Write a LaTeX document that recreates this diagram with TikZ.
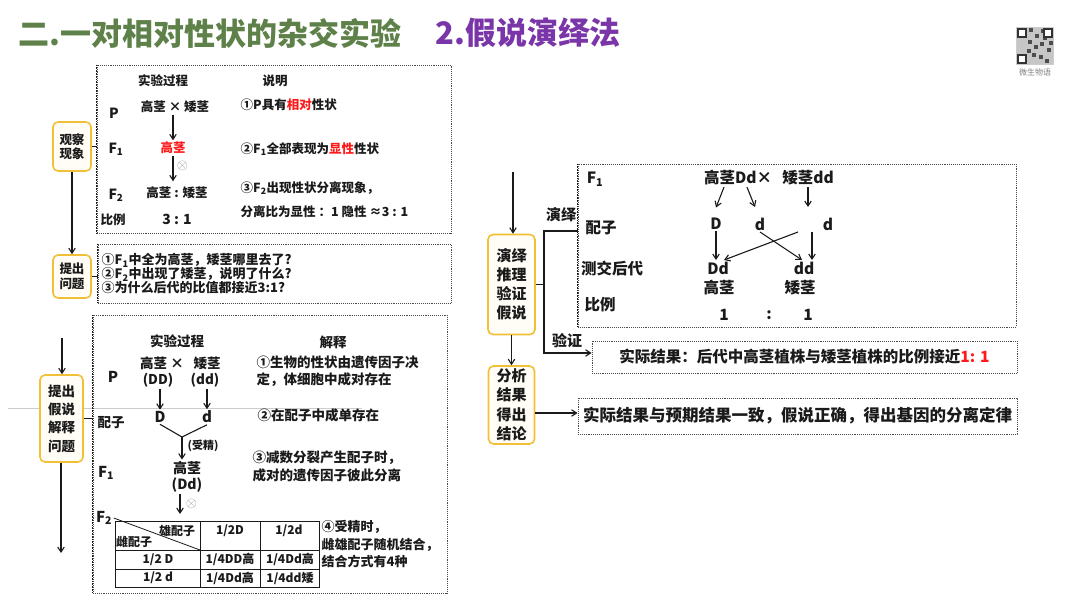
\documentclass[tikz,border=0pt]{standalone}
\usepackage{fontspec}
\setmainfont{Noto Sans CJK SC}
\usetikzlibrary{arrows.meta,positioning}
\definecolor{titlegreen}{HTML}{5E8049}
\definecolor{titlepurple}{HTML}{7A35A8}
\definecolor{stagegold}{HTML}{F2C037}
\definecolor{stagefill}{HTML}{FFFDF5}
\definecolor{ink}{HTML}{1A1A1A}
\definecolor{dotgray}{HTML}{4A4A4A}
\definecolor{hotred}{HTML}{FF1A1A}
\tikzset{
  stagecard/.style={draw=stagegold,fill=stagefill,line width=1.6pt,rounded corners=5pt,
                    align=center,inner sep=2pt,text=ink},
  dotpanel/.style={draw=dotgray,densely dotted,line width=0.9pt,inner sep=0pt,text=ink},
  panelside/.style={draw=ink,densely dotted,line width=1.8pt},
  lbl/.style={inner sep=1.5pt,text=ink,font=\bfseries\fontsize{12.5}{15}\selectfont},
  mlbl/.style={inner sep=1.5pt,text=ink,font=\bfseries\fontsize{13.5}{17}\selectfont},
  rlbl/.style={inner sep=1.5pt,text=ink,font=\bfseries\fontsize{15.5}{18}\selectfont},
  cell/.style={inner sep=1pt,text=ink,font=\bfseries\fontsize{12}{14}\selectfont},
  selfing/.style={inner sep=0pt,text=gray!85,font=\fontsize{14}{14}\selectfont},
  tbl/.style={draw=ink,line width=0.8pt},
  flowarr/.style={-{Straight Barb[length=5pt,width=6.5pt]},line width=1.1pt,draw=ink},
  link/.style={line width=1.1pt,draw=ink}
}
\begin{document}
\begin{tikzpicture}[x=1pt,y=-1pt]
  \useasboundingbox (0,0) rectangle (1080,608);
  \draw[gray!40,line width=0.5pt] (8,408) -- (362,408);
  % title
  \node[anchor=west,text=titlegreen,font=\bfseries\fontsize{31}{34}\selectfont] (ttl) at (15,33)
    {二.一对相对性状的杂交实验};
  \node[anchor=west,text=titlepurple,font=\bfseries\fontsize{31}{34}\selectfont] (subttl) at (432,33)
    {2.假说演绎法};
  % qr corner
  \node[draw=gray!40,fill=gray!45,minimum size=37,inner sep=0pt] (qr) at (1035,46) {};
  \foreach \mx/\my in {1031/30,1037/36,1043/31,1030/42,1036/47,1042/44,1049/50,
                       1034/55,1041/57,1047/61,1029/51,1045/38,1051/43}
    \fill[black!70] (\mx-2,\my-2) rectangle (\mx+2,\my+2);
  \foreach \cx/\cy in {1022/33,1048/33,1022/59}
    \draw[black!80,fill=white,line width=1.8pt] (\cx-4,\cy-4) rectangle (\cx+4,\cy+4);
  \node[text=gray,font=\fontsize{8}{9}\selectfont,below=1pt of qr] (qrcap) {微生物语};

  % stage boxes
  \node[stagecard,minimum width=38,minimum height=49,font=\bfseries\fontsize{12.5}{14.5}\selectfont]
    (obs) at (72,146.5) {观察\\现象};
  \node[stagecard,minimum width=38,minimum height=43,font=\bfseries\fontsize{12.5}{15}\selectfont]
    (ask) at (72,276.5) {提出\\问题};
  \node[stagecard,minimum width=43,minimum height=87,font=\bfseries\fontsize{13.5}{18.3}\selectfont]
    (hyp) at (61.5,418.5) {提出\\假说\\解释\\问题};
  \node[stagecard,minimum width=47,minimum height=100,font=\bfseries\fontsize{15}{19}\selectfont]
    (ded) at (511.5,284.5) {演绎\\推理\\验证\\假说};
  \node[stagecard,minimum width=46,minimum height=78,font=\bfseries\fontsize{15}{19.5}\selectfont]
    (ana) at (511.5,405) {分析\\结果\\得出\\结论};

  % dotted panels
  \node[dotpanel,minimum width=354,minimum height=168] (obspanel) at (274,149) {};
  \node[dotpanel,minimum width=353,minimum height=59] (askpanel) at (274.5,273.5) {};
  \node[dotpanel,minimum width=354,minimum height=278] (hyppanel) at (270,454) {};
  \node[dotpanel,minimum width=438,minimum height=163] (dedpanel) at (797,245.5) {};
  \node[dotpanel,minimum width=425,minimum height=32,font=\bfseries\fontsize{15.5}{18}\selectfont]
    (verpanel) at (804.5,357) {实际结果：后代中高茎植株与矮茎植株的比例接近\textcolor{hotred}{1: 1}};
  \node[dotpanel,minimum width=439,minimum height=36,font=\bfseries\fontsize{16.5}{19}\selectfont]
    (endpanel) at (797.5,416) {实际结果与预期结果一致，假说正确，得出基因的分离定律};
  \foreach \p in {obspanel,askpanel,hyppanel,dedpanel}
    \draw[panelside] (\p.north west) -- (\p.south west);

  % left flow
  \draw[link] (obs.east) -- (obs.east -| obspanel.west);
  \draw[flowarr] (obs.south) -- (ask.north);
  \draw[link] (ask.east) -- (ask.east -| askpanel.west);
  \coordinate (hypin) at (62,338);
  \draw[flowarr] (hypin) -- (hypin |- hyp.north);
  \draw[link] (hyp.east) -- (hyp.east -| hyppanel.west);
  \coordinate (hypout) at (61,553);
  \draw[flowarr] (hypout |- hyp.south) -- (hypout);

  % observation panel
  \node[lbl] (procA) at (163,81) {实验过程};
  \node[lbl] (noteA) at (275,81) {说明};
  \node[lbl,font=\bfseries\fontsize{14}{16}\selectfont] (rowP) at (114,113) {P};
  \node[lbl] (pCross) at (175,107) {高茎 × 矮茎};
  \node[lbl,font=\bfseries\fontsize{14}{16}\selectfont] (rowF1) at (116,149) {F\textsubscript{1}};
  \node[lbl,text=hotred] (f1Tall) at (173,148) {高茎};
  \node[lbl,font=\bfseries\fontsize{14}{16}\selectfont] (rowF2) at (116,195) {F\textsubscript{2}};
  \node[lbl] (f2Ratio) at (177,193) {高茎 : 矮茎};
  \node[lbl] (rowRatio) at (113,220) {比例};
  \node[lbl,font=\bfseries\fontsize{14}{16}\selectfont] (ratioA) at (177,219) {3 : 1};
  \draw[flowarr] (pCross.south -| f1Tall) -- (f1Tall.north);
  \draw[flowarr,shorten >=4pt] (f1Tall.south) -- (f1Tall.south |- f2Ratio.north);
  \node[selfing] (selfA) at (182.5,166) {$\otimes$};
  \node[lbl,anchor=west] (noteA1) at (239,105) {①P具有\textcolor{hotred}{相对}性状};
  \node[lbl,anchor=west] (noteA2) at (239,149) {②F\textsubscript{1}全部表现为\textcolor{hotred}{显性}性状};
  \node[lbl,anchor=west] (noteA3) at (239,188) {③F\textsubscript{2}出现性状分离现象，};
  \node[lbl,anchor=west] (noteA4) at (239,212) {分离比为显性 ：1 隐性 ≈3 : 1};

  % question panel
  \node[lbl,anchor=west,align=left,font=\bfseries\fontsize{13}{13.8}\selectfont] (askText) at (100,273.5)
    {①F\textsubscript{1}中全为高茎，矮茎哪里去了?\\②F\textsubscript{2}中出现了矮茎，说明了什么?\\③为什么后代的比值都接近3:1?};

  % hypothesis panel
  \node[mlbl] (procB) at (177,341) {实验过程};
  \node[mlbl] (noteB) at (333,342) {解释};
  \node[mlbl,font=\bfseries\fontsize{15}{17}\selectfont] (rowPB) at (113,377) {P};
  \node[mlbl] (pTall) at (162,363) {高茎 ×};
  \node[mlbl] (pShort) at (207,363) {矮茎};
  \node[mlbl] (pDD) at (158,380) {(DD)};
  \node[mlbl] (pdd) at (205,380) {(dd)};
  \node[mlbl,font=\bfseries\fontsize{15}{17}\selectfont] (gamD) at (160,417) {D};
  \node[mlbl,font=\bfseries\fontsize{15}{17}\selectfont] (gamd) at (207,417) {d};
  \node[mlbl] (rowGam) at (111,423) {配子};
  \draw[flowarr] (pDD.south -| gamD) -- (gamD.north);
  \draw[flowarr] (pdd.south -| gamd) -- (gamd.north);
  \coordinate (fuse) at (182,437);
  \draw[link] (gamD.south) -- (fuse) -- (gamd.south);
  \node[mlbl,font=\bfseries\fontsize{14}{16}\selectfont] (f1Hi) at (187,468) {高茎};
  \node[mlbl,font=\bfseries\fontsize{14}{16}\selectfont] (f1Dd) at (187,485) {(Dd)};
  \draw[flowarr] (fuse) -- (fuse |- f1Hi.north);
  \node[inner sep=0pt,text=ink,font=\bfseries\fontsize{11}{12}\selectfont] (fert) at (203,446) {(受精)};
  \node[mlbl,font=\bfseries\fontsize{15}{17}\selectfont] (rowF1B) at (106,473) {F\textsubscript{1}};
  \coordinate (f2in) at (180,514);
  \draw[flowarr] (f1Dd.south -| f2in) -- (f2in);
  \node[selfing] (selfB) at (191.5,504) {$\otimes$};
  \node[mlbl,font=\bfseries\fontsize{15}{17}\selectfont] (rowF2B) at (104,518) {F\textsubscript{2}};
  % punnett table
  \draw[tbl] (115,521) rectangle (319,587);
  \draw[tbl] (115,550) -- (319,550) (115,569) -- (319,569);
  \draw[tbl] (200,521) -- (200,587) (260,521) -- (260,587);
  \draw[tbl] (rowF2B.east) -- (200,550);
  \node[cell] (hMale) at (177,531) {雄配子};
  \node[cell] (hFemale) at (134,542) {雌配子};
  \node[cell] (c12) at (230,531) {1/2D};
  \node[cell] (c13) at (289,531) {1/2d};
  \node[cell] (c21) at (158,559.5) {1/2 D};
  \node[cell] (c22) at (230,559.5) {1/4DD高};
  \node[cell] (c23) at (290,559.5) {1/4Dd高};
  \node[cell] (c31) at (158,578) {1/2 d};
  \node[cell] (c32) at (230,578) {1/4Dd高};
  \node[cell] (c33) at (290,578) {1/4dd矮};
  \node[mlbl,anchor=west,align=left] (noteB1) at (255,371.5) {①生物的性状由遗传因子决\\定，体细胞中成对存在};
  \node[mlbl,anchor=west] (noteB2) at (256,415) {②在配子中成单存在};
  \node[mlbl,anchor=west,align=left,font=\bfseries\fontsize{13.5}{18}\selectfont] (noteB3) at (251,466)
    {③减数分裂产生配子时，\\成对的遗传因子彼此分离};
  \node[mlbl,anchor=west,align=left,font=\bfseries\fontsize{13}{17.5}\selectfont] (noteB4) at (320,544.5)
    {④受精时，\\雌雄配子随机结合，\\结合方式有4种};

  % right flow
  \coordinate (dedin) at (513,172);
  \draw[flowarr] (dedin) -- (dedin |- ded.north);
  \draw[flowarr] (ded.south) -- (ana.north);
  \coordinate (dedtop) at (544,231);
  \coordinate (verbot) at (544,353);
  \draw[link] (ded.east) -- (ded.east -| dedtop);
  \draw[flowarr] (dedtop -| dedpanel.west) -- (dedtop) -- (verbot) -- (verbot -| verpanel.west);
  \draw[flowarr] ([yshift=-8pt]ana.east) -- ([yshift=-8pt]ana.east -| endpanel.west);
  \node[rlbl,font=\bfseries\fontsize{15}{17}\selectfont] (dedLbl) at (561,215) {演绎};
  \node[rlbl,font=\bfseries\fontsize{15}{17}\selectfont] (verLbl) at (567,341) {验证};

  % test-cross panel
  \node[rlbl] (rowF1C) at (595,179) {F\textsubscript{1}};
  \node[rlbl] (crossTall) at (738,178) {高茎Dd×};
  \node[rlbl] (crossShort) at (808,178) {矮茎dd};
  \node[rlbl] (rowGamC) at (601,228) {配子};
  \node[rlbl] (gamD2) at (716,224) {D};
  \node[rlbl] (gamd2) at (760,224) {d};
  \node[rlbl] (gamd3) at (828,224) {d};
  \node[rlbl] (rowOff) at (612,269) {测交后代};
  \node[rlbl] (offDd) at (718,268) {Dd};
  \node[rlbl] (offdd) at (804,268) {dd};
  \node[rlbl] (offTall) at (719,288) {高茎};
  \node[rlbl] (offShort) at (800,288) {矮茎};
  \node[rlbl] (rowRatioC) at (600,305) {比例};
  \node[rlbl] (ratL) at (724,315) {1};
  \node[rlbl] (ratC) at (769,315) {:};
  \node[rlbl] (ratR) at (808,315) {1};
  \draw[flowarr] ([xshift=-14pt]crossTall.south) -- ([yshift=9pt]gamD2.north);
  \draw[flowarr] ([xshift=9pt]crossTall.south) -- ([xshift=-5pt,yshift=9pt]gamd2.north);
  \draw[flowarr] (crossShort.south) -- ([xshift=-20pt,yshift=9pt]gamd3.north);
  \draw[flowarr] (gamD2.south) -- (gamD2.south |- offDd.north);
  \draw[flowarr] ([xshift=-16pt]gamd3.south) -- ([xshift=8pt]offdd.north);
  \draw[flowarr] ([xshift=-30pt]gamd3.south) -- ([xshift=6pt]offDd.north);
  \draw[flowarr] (gamd2.south) -- ([xshift=-2pt]offdd.north);
\end{tikzpicture}
\end{document}
